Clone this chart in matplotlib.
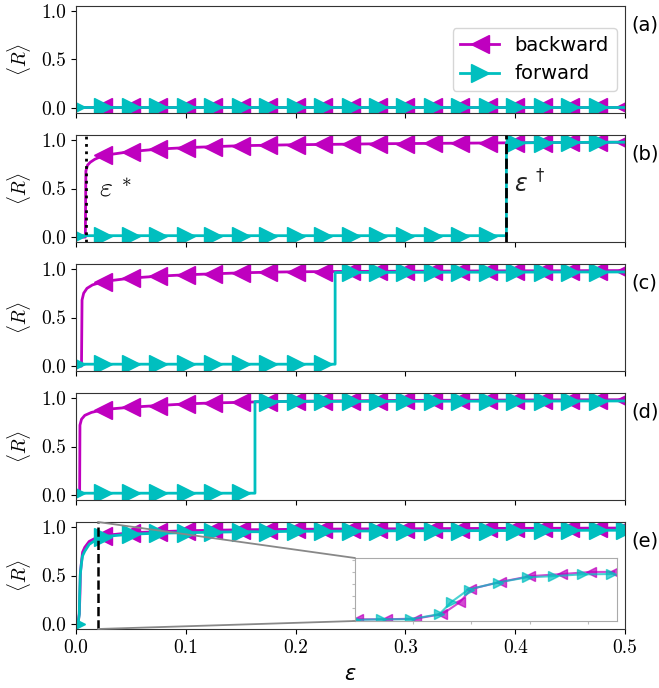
import matplotlib
matplotlib.use("Agg")
import matplotlib.pyplot as plt
import numpy as np
from matplotlib.patches import ConnectionPatch

# marker grid shared by all panels
GRID = np.round(np.arange(0.0, 0.5001, 0.025), 4)

# panel (a): both branches stay in the low state
A_B_EPS = GRID
A_B_R = np.full(GRID.size, 0.015)
A_F_EPS = GRID
A_F_R = np.full(GRID.size, 0.015)

# panel (b)
B_B_EPS = np.concatenate([[0.0, 0.0085, 0.009, 0.0105, 0.013, 0.017], GRID[1:]])
B_B_R = [0.0, 0.0, 0.68, 0.74, 0.77, 0.80,
         0.84, 0.88, 0.905, 0.92, 0.93, 0.94, 0.945, 0.95, 0.953, 0.956,
         0.96, 0.962, 0.964, 0.966, 0.968, 0.97, 0.972, 0.973, 0.975, 0.976]
B_F_EPS = np.concatenate([GRID[:16], [0.392, 0.392], GRID[16:]])
B_F_R = [0.015] * 16 + [0.015, 0.968] + [0.97, 0.972, 0.973, 0.975, 0.976]

# panel (c)
C_B_EPS = np.concatenate([[0.0, 0.005, 0.0055, 0.007, 0.01, 0.015], GRID[1:]])
C_B_R = [0.0, 0.0, 0.68, 0.75, 0.80, 0.835,
         0.87, 0.905, 0.925, 0.939, 0.949, 0.959, 0.966, 0.97, 0.972, 0.974,
         0.975, 0.976, 0.977, 0.978, 0.979, 0.98, 0.98, 0.981, 0.982, 0.982]
C_F_EPS = np.concatenate([GRID[:10], [0.236, 0.236], GRID[10:]])
C_F_R = [0.02] * 10 + [0.02, 0.962] + [0.963, 0.964, 0.965, 0.965, 0.966,
                                       0.966, 0.967, 0.967, 0.968, 0.968, 0.968]

# panel (d)
D_B_EPS = np.concatenate([[0.0, 0.0033, 0.0036, 0.005, 0.008, 0.014], GRID[1:]])
D_B_R = [0.0, 0.0, 0.72, 0.78, 0.82, 0.85,
         0.88, 0.904, 0.921, 0.938, 0.948, 0.954, 0.962, 0.965, 0.968, 0.97,
         0.972, 0.974, 0.975, 0.976, 0.977, 0.978, 0.979, 0.98, 0.98, 0.981]
D_F_EPS = np.concatenate([GRID[:7], [0.163, 0.163], GRID[7:]])
D_F_R = [0.02] * 7 + [0.02, 0.962] + [0.962, 0.963, 0.963, 0.964, 0.964, 0.965, 0.965,
                                      0.966, 0.966, 0.967, 0.967, 0.968, 0.968, 0.968]

# panel (e): no hysteresis
E_B_EPS = np.concatenate([[0.0, 0.002, 0.003, 0.0036, 0.004, 0.005, 0.006, 0.008, 0.012, 0.018], GRID[1:]])
E_B_R = [0.0, 0.02, 0.11, 0.31, 0.53, 0.64, 0.74, 0.79, 0.85, 0.885,
         0.91, 0.94, 0.95, 0.96, 0.965, 0.97, 0.972, 0.975, 0.977, 0.978,
         0.98, 0.98, 0.982, 0.983, 0.984, 0.985, 0.985, 0.986, 0.987, 0.988]
E_F_EPS = np.concatenate([[0.0, 0.002, 0.003, 0.0033, 0.0039, 0.0049, 0.0059, 0.008, 0.012, 0.018], GRID[1:]])
E_F_R = [0.0, 0.02, 0.10, 0.30, 0.51, 0.62, 0.70, 0.75, 0.82, 0.865,
         0.90, 0.925, 0.935, 0.94, 0.945, 0.95, 0.95, 0.955, 0.955, 0.957,
         0.958, 0.96, 0.96, 0.96, 0.962, 0.962, 0.963, 0.964, 0.965, 0.965]

# inset of panel (e)
INS_B_EPS = [0.0001, 0.0011, 0.0021, 0.003, 0.0036, 0.004, 0.005, 0.006, 0.0071, 0.0081, 0.0089]
INS_B_R = [0.018, 0.018, 0.03, 0.104, 0.30, 0.52, 0.635, 0.73, 0.765, 0.80, 0.80]
INS_F_EPS = [0.0, 0.0009, 0.0019, 0.0029, 0.0033, 0.0039, 0.0049, 0.0059, 0.0068, 0.0078, 0.0088]
INS_F_R = [0.007, 0.018, 0.018, 0.104, 0.30, 0.51, 0.625, 0.71, 0.73, 0.76, 0.765]

PANELS = [
    ("(a)", A_B_EPS, A_B_R, A_F_EPS, A_F_R),
    ("(b)", B_B_EPS, B_B_R, B_F_EPS, B_F_R),
    ("(c)", C_B_EPS, C_B_R, C_F_EPS, C_F_R),
    ("(d)", D_B_EPS, D_B_R, D_F_EPS, D_F_R),
    ("(e)", E_B_EPS, E_B_R, E_F_EPS, E_F_R),
]
EPS_STAR = 0.009
EPS_DAGGER = 0.392
EPS_E = 0.02

MAG = "#bf00bf"
CYAN = "#00bfbf"
FS = 14


def on_grid(eps):
    eps = np.asarray(eps, dtype=float)
    return np.isclose(eps * 40, np.round(eps * 40))


def draw_branch(ax, eps, r, color, marker, keep, **kw):
    eps = np.asarray(eps, dtype=float)
    idx = [i for i in range(eps.size) if on_grid(eps[i]) and keep(eps[i])]
    # only one marker per grid value
    seen, marks = set(), []
    for i in idx:
        key = round(eps[i], 4)
        if key not in seen:
            seen.add(key)
            marks.append(i)
    return ax.plot(eps, r, color=color, marker=marker, markevery=marks, **kw)


fig = plt.figure(figsize=(6.59, 6.88), dpi=100)
left, right = 76 / 659, 625 / 659
tops = [6, 135, 264, 393, 522]
height = 107
axes = []
for top in tops:
    ax = fig.add_axes([left, 1 - (top + height) / 688, right - left, height / 688])
    axes.append(ax)

for ax, (label, be, br, fe, fr) in zip(axes, PANELS):
    draw_branch(ax, be, br, MAG, "<", lambda e: e > 0, lw=2, ms=13, label="backward")
    draw_branch(ax, fe, fr, CYAN, ">", lambda e: e < 0.5 or label == "(e)", lw=2, ms=13,
                label="forward")
    ax.set_xlim(0, 0.5)
    ax.set_ylim(-0.05, 1.05)
    ax.set_yticks([0, 0.5, 1.0])
    ax.set_yticklabels(["0.0", "0.5", "1.0"], fontfamily="cmr10", fontsize=FS)
    ax.set_xticks([0, 0.1, 0.2, 0.3, 0.4, 0.5])
    ax.set_ylabel(r"$\langle R\rangle$", fontsize=FS, math_fontfamily="cm", labelpad=6)
    for sp in ax.spines.values():
        sp.set_color("#333333")
    ax.text(1.012, 0.82, label, transform=ax.transAxes, fontsize=FS, ha="left", va="center")
    if ax is not axes[-1]:
        ax.set_xticklabels([])
    else:
        ax.set_xticklabels(["0.0", "0.1", "0.2", "0.3", "0.4", "0.5"], fontfamily="cmr10",
                           fontsize=FS)
        ax.set_xlabel(r"$\varepsilon$", fontsize=15, math_fontfamily="dejavusans", labelpad=5)

axes[0].legend(loc="upper right", bbox_to_anchor=(0.985, 0.795), fontsize=FS,
               handlelength=2.0, borderaxespad=0)

axb = axes[1]
axb.axvline(EPS_STAR, color="black", ls=":", lw=2, zorder=5)
axb.axvline(EPS_DAGGER, color="black", ls="--", lw=2, zorder=5)
axb.text(0.021, 0.5, r"$\varepsilon^{\;*}$", fontsize=20, math_fontfamily="cm", va="center")
axb.text(0.399, 0.55, r"$\varepsilon^{\;\dagger}$", fontsize=17, math_fontfamily="dejavusans",
         va="center", color="#222222")

axe = axes[-1]
axe.axvline(EPS_E, color="black", ls="--", lw=1.8, zorder=5)

axins = fig.add_axes([355 / 659, 1 - 621 / 688, 262 / 659, 63 / 688])
axins.plot(INS_B_EPS, INS_B_R, color=MAG, marker="<", ms=7, lw=1.5, alpha=0.7)
axins.plot(INS_F_EPS, INS_F_R, color=CYAN, marker=">", ms=7, lw=1.5, alpha=0.7)
axins.set_xlim(0, 0.009)
axins.set_ylim(-0.01, 1.03)
axins.set_xticks([0.002, 0.004, 0.006, 0.008])
axins.set_yticks([0, 0.2, 0.4, 0.6, 0.8, 1.0])
axins.tick_params(labelbottom=False, labelleft=False, length=2, color="#bbbbbb")
for sp in axins.spines.values():
    sp.set_color("#aaaaaa")

for ya, yb in [(1.05, 1.0), (-0.05, 0.0)]:
    con = ConnectionPatch(xyA=(EPS_E, ya), coordsA=axe.transData, xyB=(0, yb),
                          coordsB=axins.transAxes, color="#888888", lw=1.3, zorder=6)
    fig.add_artist(con)

fig.savefig("out.png", dpi=100)
